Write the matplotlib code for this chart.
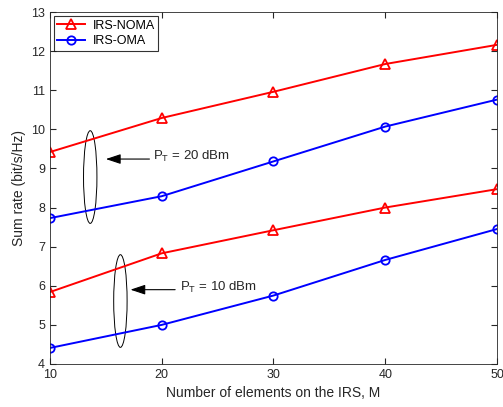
import numpy as np
import matplotlib.pyplot as plt
from matplotlib.patches import Ellipse

plt.rcParams['font.family'] = ['Liberation Sans', 'DejaVu Sans']
plt.rcParams['mathtext.fontset'] = 'custom'
plt.rcParams['mathtext.rm'] = 'Liberation Sans'

# datos
M = [10, 20, 30, 40, 50]
noma_20 = [9.42, 10.29, 10.96, 11.67, 12.16]
oma_20 = [7.73, 8.29, 9.18, 10.07, 10.76]
noma_10 = [5.84, 6.83, 7.42, 8.00, 8.47]
oma_10 = [4.41, 5.00, 5.75, 6.66, 7.45]

fig = plt.figure(figsize=(5.03, 4.07), dpi=100)
ax = fig.add_axes([0.0994, 0.1057, 0.8886, 0.8648])

rojo = '#ff0000'
azul = '#0000ff'
ax.plot(M, noma_20, '-^', color=rojo, lw=1.4, ms=7, mfc='none', mew=1.3, label='IRS-NOMA')
ax.plot(M, oma_20, '-o', color=azul, lw=1.4, ms=6, mfc='none', mew=1.3, label='IRS-OMA')
ax.plot(M, noma_10, '-^', color=rojo, lw=1.4, ms=7, mfc='none', mew=1.3)
ax.plot(M, oma_10, '-o', color=azul, lw=1.4, ms=6, mfc='none', mew=1.3)

ax.set_xlim(10, 50)
ax.set_ylim(4, 13)
ax.set_xticks([10, 20, 30, 40, 50])
ax.set_yticks(range(4, 14))

gris = '#262626'
ax.tick_params(direction='in', top=True, right=True, labelsize=9, colors=gris, length=4)
for s in ax.spines.values():
    s.set_color(gris)
    s.set_linewidth(0.6)

ax.set_xlabel('Number of elements on the IRS, M', fontsize=10, color=gris)
ax.set_ylabel('Sum rate (bit/s/Hz)', fontsize=10, color=gris)

# elipses y flechas
ax.add_patch(Ellipse((13.6, 8.78), 1.2, 2.37, fill=False, ec='k', lw=0.7))
ax.add_patch(Ellipse((16.3, 5.61), 1.2, 2.37, fill=False, ec='k', lw=0.7))
flecha = dict(arrowstyle='-|>,head_length=0.9,head_width=0.3', color='k', lw=0.8,
              mutation_scale=10, shrinkA=0, shrinkB=0)
ax.annotate('', xy=(15.0, 9.24), xytext=(18.9, 9.24), arrowprops=flecha)
ax.annotate('', xy=(17.2, 5.90), xytext=(21.2, 5.90), arrowprops=flecha)
ax.text(19.2, 9.30, r'P$_\mathregular{T}$ = 20 dBm', fontsize=9.5, va='center', color=gris)
ax.text(21.6, 5.96, r'P$_\mathregular{T}$ = 10 dBm', fontsize=9.5, va='center', color=gris)

leg = ax.legend(loc='upper left', fontsize=9, frameon=True, fancybox=False,
                borderaxespad=0.3, handlelength=2.2, handletextpad=0.6,
                borderpad=0.3, labelspacing=0.3)
leg.get_frame().set_edgecolor('k')
leg.get_frame().set_linewidth(0.8)

fig.savefig('out.png', dpi=100)
